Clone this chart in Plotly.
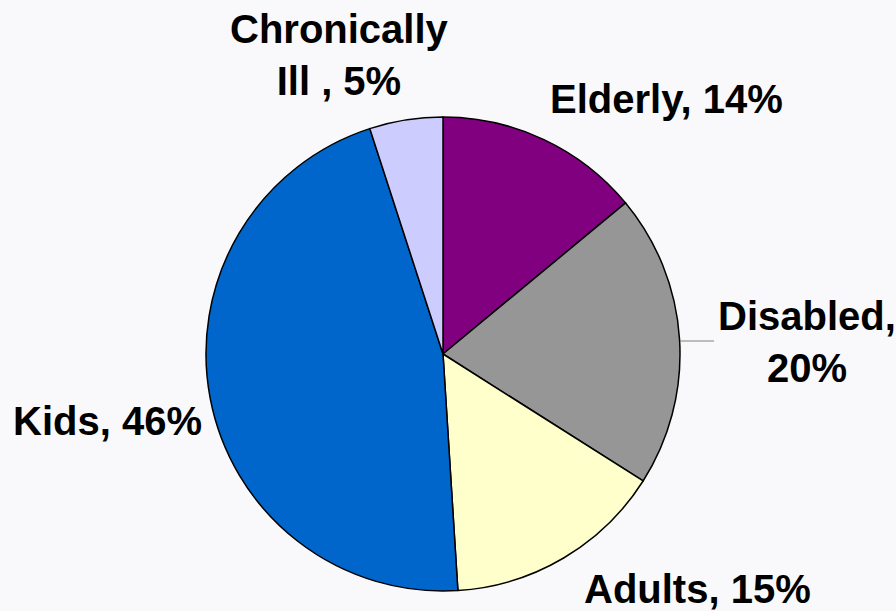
import plotly.graph_objects as go

# slices, clockwise from 12 o'clock
labels = ['Elderly', 'Disabled', 'Adults', 'Kids', 'Chronically Ill']
values = [14, 20, 15, 46, 5]
colors = ['#800080', '#969696', '#FFFFCC', '#0066CC', '#CCCCFF']

# how each label is written next to the pie
label_text = ['Elderly, {}%', 'Disabled,<br>{}%', 'Adults, {}%', 'Kids, {}%', 'Chronically<br>Ill , {}%']
label_pos = [(666, 99), (807, 342), (697, 589), (107, 421), (339, 55)]

W, H = 896, 611

fig = go.Figure()
fig.add_trace(go.Pie(
    labels=labels,
    values=values,
    sort=False,
    direction='clockwise',
    rotation=0,
    marker=dict(colors=colors, line=dict(color='black', width=1.5)),
    textinfo='none',
    hoverinfo='label+percent',
    showlegend=False,
    domain=dict(x=[206 / W, 680 / W], y=[(H - 591) / H, (H - 117) / H]),
))

for txt, v, (px, py) in zip(label_text, values, label_pos):
    fig.add_annotation(
        x=px / W, y=1 - py / H, xref='paper', yref='paper',
        text='<b>' + txt.format(v) + '</b>',
        showarrow=False, xanchor='center', yanchor='middle',
        font=dict(family='Liberation Sans, Arial, sans-serif', size=40, color='black'),
    )

# leader line for Disabled
fig.add_shape(type='line', xref='paper', yref='paper',
              x0=680 / W, x1=714 / W, y0=1 - 341 / H, y1=1 - 341 / H,
              line=dict(color='#808080', width=1))

fig.update_layout(
    width=W, height=H,
    margin=dict(l=0, r=0, t=0, b=0),
    paper_bgcolor='#F9F9FB',
    plot_bgcolor='#F9F9FB',
)

fig.write_html('out.html', config={'displayModeBar': False},
               post_script="document.body.style.margin='0';")
